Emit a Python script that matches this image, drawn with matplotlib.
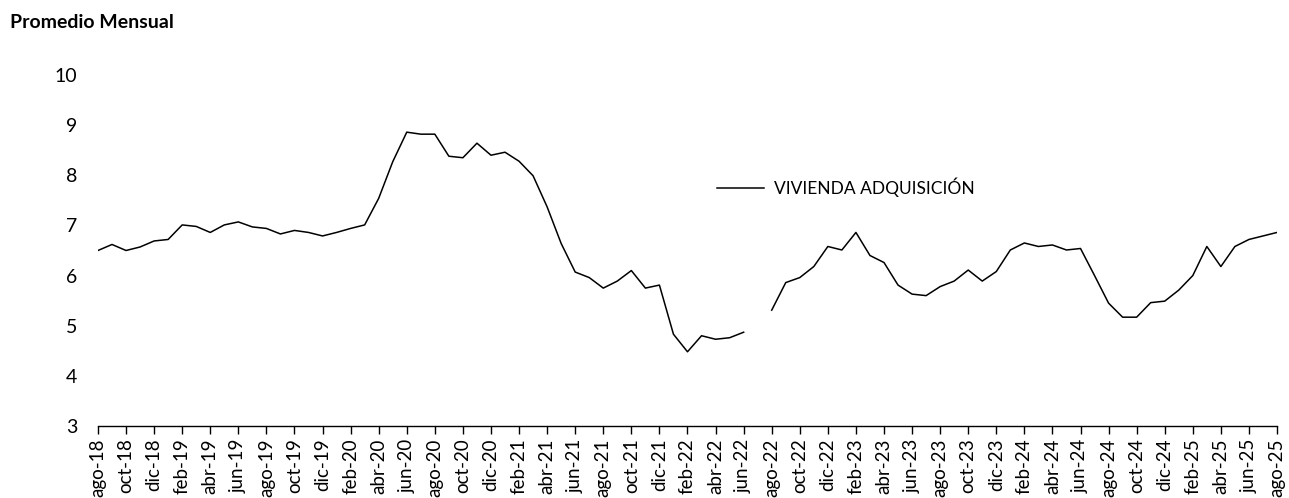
import numpy as np
import matplotlib
matplotlib.use("Agg")
from matplotlib import pyplot as plt

plt.rcParams['font.family'] = ['Lato', 'DejaVu Sans']

# monthly series ago-18 .. ago-25 (jul-22 missing)
meses = ["ene", "feb", "mar", "abr", "may", "jun", "jul", "ago", "sep", "oct", "nov", "dic"]
labels = []
for k in range(85):
    m = (7 + k) % 12
    y = 18 + (7 + k) // 12
    labels.append(meses[m] + "-" + str(y))

vivienda = [
    6.50, 6.62, 6.50, 6.57, 6.69, 6.72, 7.01, 6.98, 6.86, 7.01,
    7.07, 6.97, 6.94, 6.83, 6.90, 6.86, 6.79, 6.86, 6.94, 7.01,
    7.54, 8.27, 8.86, 8.82, 8.82, 8.38, 8.35, 8.64, 8.40, 8.46,
    8.28, 7.99, 7.37, 6.64, 6.07, 5.96, 5.75, 5.89, 6.10, 5.75,
    5.81, 4.83, 4.48, 4.80, 4.73, 4.76, 4.87, np.nan, 5.31, 5.86,
    5.96, 6.18, 6.58, 6.51, 6.86, 6.40, 6.26, 5.81, 5.63, 5.60,
    5.78, 5.89, 6.11, 5.89, 6.08, 6.51, 6.65, 6.58, 6.61, 6.51,
    6.54, 6.00, 5.45, 5.17, 5.17, 5.46, 5.49, 5.71, 6.00, 6.58,
    6.18, 6.58, 6.72, 6.79, 6.86,
]

fig = plt.figure(figsize=(12.89, 4.98), dpi=100)
ax = fig.add_axes([0.076, 0.1446, 0.9147, 0.7048])

x = np.arange(len(vivienda))
ax.plot(x, vivienda, color="black", linewidth=1.1, label="VIVIENDA ADQUISICIÓN")

ax.set_xlim(0, 84)
ax.set_ylim(3, 10)
ax.set_yticks(range(3, 11))
ax.set_xticks(x[::2])
ax.set_xticklabels(labels[::2], rotation=90, fontsize=13.5)

ax.tick_params(axis="y", length=0, pad=15, labelsize=14)
ax.tick_params(axis="x", length=6, width=1, pad=3, color="black")

for s in ["left", "top", "right"]:
    ax.spines[s].set_visible(False)
ax.spines["bottom"].set_linewidth(1.0)

ax.legend(loc="center left", bbox_to_anchor=(0.512, 0.68), frameon=False,
          fontsize=12.5, handlelength=2.7, handletextpad=0.55)

fig.text(0.008, 0.955, "Promedio Mensual", fontsize=14, fontweight="bold", va="center")

fig.savefig("out.png", dpi=100)
